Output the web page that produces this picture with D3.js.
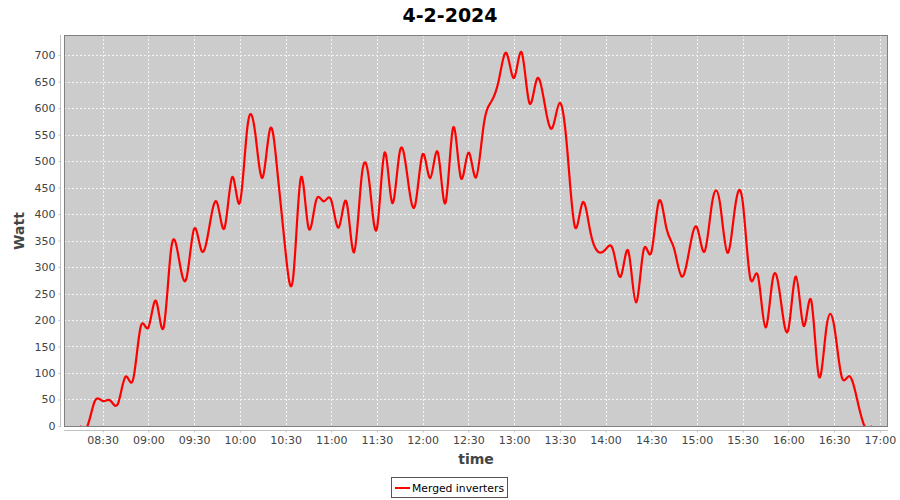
<!DOCTYPE html>
<html>
<head>
<meta charset="utf-8">
<script src="https://d3js.org/d3.v7.min.js"></script>
<style>
  html, body { margin: 0; padding: 0; background: #ffffff; }
  svg { display: block; font-family: "DejaVu Sans", sans-serif; }
</style>
</head>
<body>
<svg id="chart" width="900" height="500"></svg>
<script>
const chartTitle = "4-2-2024";
const seriesName = "Merged inverters";
const xLabel = "time";
const yLabel = "Watt";

const times = [
  "08:15","08:20","08:25","08:30","08:35","08:40","08:45","08:50","08:55",
  "09:00","09:05","09:10","09:15","09:20","09:25","09:30","09:35","09:40","09:45","09:50","09:55",
  "10:00","10:05","10:10","10:15","10:20","10:25","10:30","10:35","10:40","10:45","10:50","10:55",
  "11:00","11:05","11:10","11:15","11:20","11:25","11:30","11:35","11:40","11:45","11:50","11:55",
  "12:00","12:05","12:10","12:15","12:20","12:25","12:30","12:35","12:40","12:45","12:50","12:55",
  "13:00","13:05","13:10","13:15","13:20","13:25","13:30","13:35","13:40","13:45","13:50","13:55",
  "14:00","14:05","14:10","14:15","14:20","14:25","14:30","14:35","14:40","14:45","14:50","14:55",
  "15:00","15:05","15:10","15:15","15:20","15:25","15:30","15:35","15:40","15:45","15:50","15:55",
  "16:00","16:05","16:10","16:15","16:20","16:25","16:30","16:35","16:40","16:45","16:50","16:55"
];

const watts = [
  0, 0, 48, 47, 48, 42, 93, 88, 188,
  186, 236, 186, 336, 316, 279, 372, 330, 376, 422, 374, 470,
  421, 565, 555, 469, 562, 470, 329, 280, 468, 375, 425, 424,
  426, 375, 423, 328, 472, 460, 373, 516, 421, 518, 471, 416,
  513, 468, 516, 421, 563, 469, 516, 469, 567, 612, 653, 704,
  657, 705, 610, 655, 609, 562, 610, 518, 375, 422, 367, 329,
  333, 332, 282, 330, 233, 332, 327, 424, 373, 335, 282, 332,
  375, 329, 422, 423, 327, 412, 424, 279, 284, 186, 281, 238,
  182, 282, 189, 237, 94, 186, 190, 93, 94, 52, 0, 0
];

const xTickLabels = ["08:30","09:00","09:30","10:00","10:30","11:00","11:30","12:00","12:30",
  "13:00","13:30","14:00","14:30","15:00","15:30","16:00","16:30","17:00"];
const yTickValues = [0,50,100,150,200,250,300,350,400,450,500,550,600,650,700];

const toMin = s => { const p = s.split(":"); return (+p[0]) * 60 + (+p[1]); };
const fmt = m => String(Math.floor(m / 60)).padStart(2, "0") + ":" + String(m % 60).padStart(2, "0");

const data = times.map((t, i) => ({ t: toMin(t), v: watts[i] }));

const svg = d3.select("#chart");
const plot = { left: 64, right: 888, top: 35, bottom: 427 };

const tMin = d3.min(data, d => d.t), tMax = d3.max(data, d => d.t);
const pad = (tMax - tMin) * 0.02;
const x = d3.scaleLinear().domain([tMin - pad, tMax + pad]).range([plot.left, plot.right]);
const y = d3.scaleLinear().domain([-2, 738]).range([plot.bottom, plot.top]);

svg.append("rect").attr("x", 0).attr("y", 0).attr("width", 900).attr("height", 500).attr("fill", "#ffffff");

// plot background
svg.append("rect")
  .attr("x", plot.left).attr("y", plot.top)
  .attr("width", plot.right - plot.left).attr("height", plot.bottom - plot.top)
  .attr("fill", "#cccccc");

const xTicks = xTickLabels.map(toMin);

// gridlines
const grid = svg.append("g").attr("stroke", "#f4f4f4").attr("stroke-width", 1).attr("stroke-dasharray", "2,2");
grid.selectAll("line.v").data(xTicks).join("line")
  .attr("x1", d => Math.round(x(d)) + 0.5).attr("x2", d => Math.round(x(d)) + 0.5)
  .attr("y1", plot.top).attr("y2", plot.bottom);
grid.selectAll("line.h").data(yTickValues).join("line")
  .attr("y1", d => Math.round(y(d)) + 0.5).attr("y2", d => Math.round(y(d)) + 0.5)
  .attr("x1", plot.left).attr("x2", plot.right);

// clip
svg.append("clipPath").attr("id", "clip").append("rect")
  .attr("x", plot.left).attr("y", plot.top)
  .attr("width", plot.right - plot.left).attr("height", plot.bottom - plot.top);

const line = d3.line().x(d => x(d.t)).y(d => y(d.v)).curve(d3.curveNatural);
svg.append("path").datum(data)
  .attr("clip-path", "url(#clip)")
  .attr("fill", "none").attr("stroke", "#ff0000").attr("stroke-width", 2.2)
  .attr("stroke-linejoin", "round")
  .attr("d", line);

// plot outline
svg.append("rect")
  .attr("x", plot.left + 0.5).attr("y", plot.top + 0.5)
  .attr("width", plot.right - plot.left - 1).attr("height", plot.bottom - plot.top - 1)
  .attr("fill", "none").attr("stroke", "#808080").attr("stroke-width", 1);

// axes
const xAxisG = svg.append("g").attr("transform", `translate(0,${plot.bottom + 3.5})`)
  .call(d3.axisBottom(x).tickValues(xTicks).tickFormat(fmt).tickSize(2).tickSizeOuter(0));
const yAxisG = svg.append("g").attr("transform", `translate(${plot.left - 3.5},0)`)
  .call(d3.axisLeft(y).tickValues(yTickValues).tickSize(2).tickSizeOuter(0));

[xAxisG, yAxisG].forEach(g => {
  g.select(".domain").attr("stroke", "#c0c0c0");
  g.selectAll(".tick line").attr("stroke", "#c0c0c0");
  g.selectAll(".tick text").attr("fill", "#444444").attr("font-size", "11px").attr("font-family", "DejaVu Sans");
});
xAxisG.selectAll(".tick text").attr("dy", "0.71em").attr("y", 6);
yAxisG.selectAll(".tick text").attr("x", -5);
xAxisG.select(".domain").attr("d", `M${plot.left},0H${plot.right}`);
yAxisG.select(".domain").attr("d", `M0,${plot.top}V${plot.bottom}`);

// axis labels
svg.append("text").attr("x", (plot.left + plot.right) / 2).attr("y", 464)
  .attr("text-anchor", "middle").attr("font-size", "14px").attr("font-weight", "bold")
  .attr("fill", "#444444").text(xLabel);
svg.append("text").attr("transform", `translate(24,${(plot.top + plot.bottom) / 2}) rotate(-90)`)
  .attr("text-anchor", "middle").attr("font-size", "14px").attr("font-weight", "bold")
  .attr("fill", "#444444").text(yLabel);

// title
svg.append("text").attr("x", 450).attr("y", 21.5)
  .attr("text-anchor", "middle").attr("font-size", "19px").attr("font-weight", "bold")
  .attr("fill", "#000000").text(chartTitle);

// legend
const lg = svg.append("g");
lg.append("rect").attr("x", 391.5).attr("y", 477.5).attr("width", 116).attr("height", 20)
  .attr("fill", "#ffffff").attr("stroke", "#555555").attr("stroke-width", 1);
lg.append("line").attr("x1", 395).attr("x2", 410).attr("y1", 488).attr("y2", 488)
  .attr("stroke", "#ff0000").attr("stroke-width", 2);
lg.append("text").attr("x", 412).attr("y", 492).attr("font-size", "11px")
  .attr("textLength", 92).attr("lengthAdjust", "spacingAndGlyphs")
  .attr("fill", "#000000").text(seriesName);
</script>
</body>
</html>
